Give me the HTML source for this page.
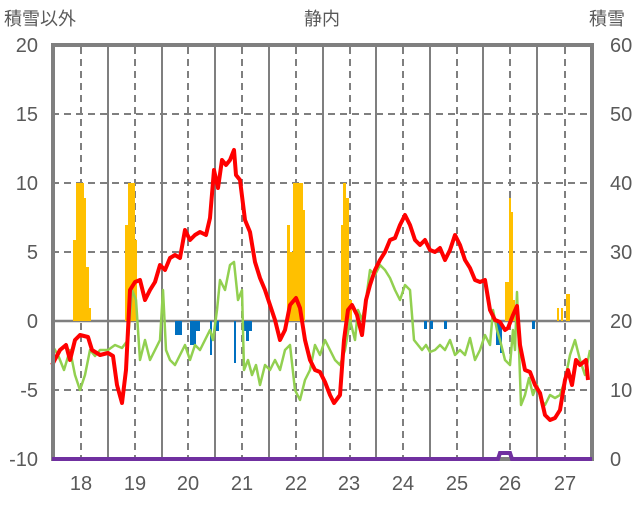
<!DOCTYPE html>
<html><head><meta charset="utf-8"><style>
body{margin:0;background:#fff;}
svg text{font-family:"Liberation Sans","Noto Sans CJK JP",sans-serif;fill:#595959;}
</style></head><body>
<svg width="636" height="501" viewBox="0 0 636 501" xmlns="http://www.w3.org/2000/svg">
<rect width="636" height="501" fill="#fff"/>
<g font-size="18">
<text x="4" y="25">積雪以外</text>
<text x="322" y="25" text-anchor="middle">静内</text>
<text x="589" y="25">積雪</text>
</g>
<g font-size="20" text-anchor="end">
<text x="38" y="52">20</text><text x="38" y="121">15</text><text x="38" y="190">10</text>
<text x="38" y="259">5</text><text x="38" y="328">0</text><text x="38" y="397">-5</text><text x="38" y="466">-10</text>
</g>
<g font-size="20">
<text x="610" y="52">60</text><text x="610" y="121">50</text><text x="610" y="190">40</text>
<text x="610" y="259">30</text><text x="610" y="328">20</text><text x="610" y="397">10</text><text x="610" y="466">0</text>
</g>
<g font-size="20" text-anchor="middle">
<text x="81" y="490">18</text><text x="135" y="490">19</text><text x="188" y="490">20</text><text x="242" y="490">21</text><text x="296" y="490">22</text><text x="349" y="490">23</text><text x="403" y="490">24</text><text x="457" y="490">25</text><text x="510" y="490">26</text><text x="565" y="490">27</text>
</g>
<g stroke="#7f7f7f" stroke-width="2" stroke-dasharray="7,5">
<line x1="52" y1="114" x2="592" y2="114"/><line x1="52" y1="183" x2="592" y2="183"/><line x1="52" y1="252" x2="592" y2="252"/><line x1="52" y1="390" x2="592" y2="390"/>
<line x1="81" y1="47" x2="81" y2="459"/><line x1="135" y1="47" x2="135" y2="459"/><line x1="188" y1="47" x2="188" y2="459"/><line x1="242" y1="47" x2="242" y2="459"/><line x1="296" y1="47" x2="296" y2="459"/><line x1="350" y1="47" x2="350" y2="459"/><line x1="403" y1="47" x2="403" y2="459"/><line x1="457" y1="47" x2="457" y2="459"/><line x1="510" y1="47" x2="510" y2="459"/><line x1="565" y1="47" x2="565" y2="459"/>
</g>
<g stroke="#7f7f7f" stroke-width="2">
<line x1="108" y1="47" x2="108" y2="459"/><line x1="162" y1="47" x2="162" y2="459"/><line x1="215" y1="47" x2="215" y2="459"/><line x1="269" y1="47" x2="269" y2="459"/><line x1="323" y1="47" x2="323" y2="459"/><line x1="376" y1="47" x2="376" y2="459"/><line x1="430" y1="47" x2="430" y2="459"/><line x1="483" y1="47" x2="483" y2="459"/><line x1="537" y1="47" x2="537" y2="459"/>
<line x1="52" y1="321" x2="592" y2="321" stroke-width="2.5"/>
</g>
<g fill="#ffc000">
<rect x="73" y="240" width="3" height="81"/><rect x="76" y="183" width="8" height="138"/><rect x="84" y="198" width="2" height="123"/><rect x="86" y="267" width="3" height="54"/><rect x="89" y="308" width="2" height="13"/>
<rect x="125" y="225" width="3" height="96"/><rect x="128" y="183" width="7" height="138"/><rect x="135" y="240" width="2" height="81"/>
<rect x="287" y="225" width="3" height="96"/><rect x="290" y="252" width="3" height="69"/><rect x="293" y="183" width="10" height="138"/><rect x="303" y="210" width="2" height="111"/>
<rect x="341" y="225" width="2" height="96"/><rect x="343" y="183" width="3" height="138"/><rect x="346" y="198" width="3" height="123"/><rect x="349" y="300" width="3" height="21"/>
<rect x="505" y="282" width="4" height="39"/><rect x="509" y="198" width="2" height="123"/><rect x="511" y="212" width="2" height="109"/><rect x="513" y="300" width="2" height="21"/>
<rect x="557" y="308" width="2" height="13"/><rect x="561" y="308" width="2" height="13"/><rect x="566" y="294" width="4" height="27"/>
</g>
<g fill="#0070c0">
<rect x="175" y="321" width="7" height="14"/><rect x="190" y="321" width="6" height="24"/><rect x="196" y="321" width="4" height="10"/><rect x="210" y="321" width="2" height="34"/><rect x="216" y="321" width="3" height="10"/>
<rect x="234" y="321" width="2" height="42"/><rect x="244" y="321" width="8" height="10"/><rect x="246" y="321" width="3" height="20"/>
<rect x="424" y="321" width="3" height="8"/><rect x="430" y="321" width="3" height="8"/><rect x="444" y="321" width="3" height="8"/>
<rect x="496" y="321" width="4" height="24"/><rect x="500" y="321" width="2" height="32"/><rect x="532" y="321" width="3" height="8"/>
</g>
<polyline fill="none" stroke="#92d050" stroke-width="2.5" stroke-linejoin="round" points="52,345 58,355 64,370 70,350 75,375 80,390 85,375 90,350 95,356 100,350 108,350 115,345 122,348 128,340 132,290 136,300 140,360 145,340 150,360 155,350 160,340 163,290 166,350 170,360 175,365 180,355 185,345 190,360 195,345 200,350 205,340 210,330 213,340 217,310 220,280 225,290 230,265 234,262 238,300 242,290 244,370 248,360 252,375 256,365 260,385 265,365 270,370 275,360 280,370 285,350 290,345 295,390 300,400 305,380 310,370 315,345 320,355 325,340 330,350 335,360 340,365 345,350 350,320 355,340 358,310 362,320 366,300 370,270 375,275 380,265 385,270 390,278 395,290 400,300 405,285 410,290 414,340 418,345 422,350 426,345 430,352 435,350 440,345 445,350 450,340 455,355 460,350 465,355 470,338 475,360 480,350 485,335 490,345 493,310 497,330 500,340 505,360 510,365 513,330 515,350 517,292 521,405 525,395 529,378 533,395 537,385 541,400 545,405 550,395 555,398 560,395 565,380 570,355 575,340 580,360 585,375 590,350"/>
<polyline fill="none" stroke="#ff0000" stroke-width="4" stroke-linejoin="round" points="52,365 60,350 66,345 70,360 75,340 80,335 88,337 92,350 100,355 108,353 113,356 117,385 122,403 126,370 130,290 135,282 140,280 145,300 150,290 155,282 160,265 165,270 170,258 175,255 180,258 185,230 190,240 195,235 200,232 206,235 210,218 214,170 218,188 222,160 226,165 230,160 234,150 236,175 240,180 245,220 250,232 255,262 260,278 265,290 270,305 275,320 280,340 285,330 290,305 296,298 300,308 305,340 310,360 315,370 320,372 325,382 330,395 334,403 340,395 344,340 348,310 352,305 357,315 362,335 366,300 370,285 375,270 380,260 385,252 390,240 395,238 400,225 405,215 410,225 415,240 420,245 425,240 430,250 435,252 440,248 445,260 450,250 455,235 460,245 465,260 470,268 475,280 480,282 485,280 490,310 495,320 500,322 505,330 508,328 513,315 517,306 520,345 525,370 530,372 535,385 540,393 545,415 550,420 555,418 560,410 565,380 568,370 572,385 576,360 580,365 586,360 588,380"/>
<rect x="53" y="45" width="539" height="414" fill="none" stroke="#7f7f7f" stroke-width="4"/>
<polyline fill="none" stroke="#7030a0" stroke-width="4" points="52,459 498,459 500,453 510,453 512,459 592,459"/>
</svg>
</body></html>
